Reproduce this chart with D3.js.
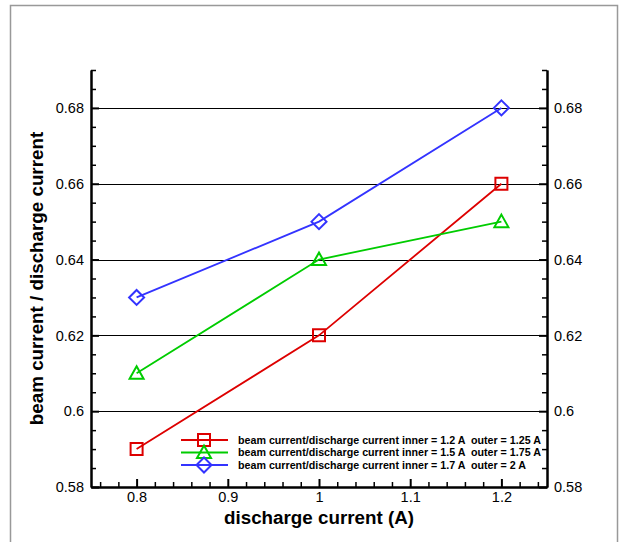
<!DOCTYPE html>
<html><head><meta charset="utf-8">
<script src="https://cdn.jsdelivr.net/npm/d3@7"></script>
<style>body{margin:0;background:#fff}svg{display:block}</style>
</head><body>
<svg id="c" width="621" height="542"></svg>
<script>
const xValues = [0.8, 1.0, 1.2];
const seriesNames = [
  "beam current/discharge current inner = 1.2 A  outer = 1.25 A",
  "beam current/discharge current inner = 1.5 A  outer = 1.75 A",
  "beam current/discharge current inner = 1.7 A  outer = 2 A"
];
const redValues = [0.59, 0.62, 0.66];
const greenValues = [0.61, 0.64, 0.65];
const blueValues = [0.63, 0.65, 0.68];
const seriesColors = ["#dd0000", "#00cc00", "#3333ff"];
const seriesMarkers = ["square", "triangle", "diamond"];
const xTicks = [0.8, 0.9, 1.0, 1.1, 1.2];
const yTicks = [0.58, 0.60, 0.62, 0.64, 0.66, 0.68];

const svg = d3.select("#c");
const font = "Liberation Sans, Arial, sans-serif";
svg.append("rect").attr("x",10.5).attr("y",5.5).attr("width",607).attr("height",545)
  .attr("fill","none").attr("stroke","#999").attr("stroke-width",1.5);

const L=91, R=547, T=70, B=487;
const x = d3.scaleLinear().domain([0.75,1.25]).range([L,R]);
const y = d3.scaleLinear().domain([0.58,0.69]).range([B,T]);

// grid
svg.append("g").selectAll("line").data(yTicks.slice(1)).join("line")
  .attr("x1",L).attr("x2",R).attr("y1",d=>Math.round(y(d))+0.5).attr("y2",d=>Math.round(y(d))+0.5)
  .attr("stroke","#000").attr("stroke-width",1);

function fmt(d){ return d3.format("")(+d.toFixed(2)); }

// axes
const minorX = d3.range(0.76,1.2401,0.02).map(d=>+d.toFixed(2)).filter(d=>!xTicks.some(t=>Math.abs(t-d)<1e-6));
const minorY = d3.range(0.585,0.6901,0.005).map(d=>+d.toFixed(3)).filter(d=>!yTicks.some(t=>Math.abs(t-d)<1e-6));

const axB = svg.append("g").attr("transform",`translate(0,${B})`)
  .call(d3.axisBottom(x).tickValues(xTicks).tickSizeInner(-8).tickSizeOuter(0).tickPadding(5).tickFormat(fmt));
const axBm = svg.append("g").attr("transform",`translate(0,${B})`)
  .call(d3.axisBottom(x).tickValues(minorX).tickSizeInner(-5).tickSizeOuter(0).tickFormat(""));
const axL = svg.append("g").attr("transform",`translate(${L},0)`)
  .call(d3.axisLeft(y).tickValues(yTicks).tickSizeInner(-8).tickSizeOuter(0).tickPadding(7).tickFormat(fmt));
const axLm = svg.append("g").attr("transform",`translate(${L},0)`)
  .call(d3.axisLeft(y).tickValues(minorY).tickSizeInner(-5).tickSizeOuter(0).tickFormat(""));
const axR = svg.append("g").attr("transform",`translate(${R},0)`)
  .call(d3.axisRight(y).tickValues(yTicks).tickSizeInner(-8).tickSizeOuter(0).tickPadding(7).tickFormat(fmt));
const axRm = svg.append("g").attr("transform",`translate(${R},0)`)
  .call(d3.axisRight(y).tickValues(minorY).tickSizeInner(-5).tickSizeOuter(0).tickFormat(""));
[axB,axBm,axL,axLm,axR,axRm].forEach(a=>{
  a.selectAll("path.domain").attr("stroke","#000").attr("stroke-width",2);
  a.selectAll(".tick line").attr("stroke","#000").attr("stroke-width",1.5);
  a.selectAll("text").attr("font-family",font).attr("font-size",14.5).attr("fill","#000");
});
axB.selectAll(".tick line").attr("stroke-width",2);
axL.selectAll(".tick line").attr("stroke-width",2);
axR.selectAll(".tick line").attr("stroke-width",2);

// titles
svg.append("text").attr("x",319).attr("y",524).attr("text-anchor","middle")
  .attr("font-family",font).attr("font-size",18.8).attr("font-weight","bold").text("discharge current (A)");
svg.append("text").attr("transform",`translate(43,${(T+B)/2}) rotate(-90)`).attr("text-anchor","middle")
  .attr("font-family",font).attr("font-size",18.8).attr("font-weight","bold").text("beam current / discharge current");

// markers
function markerPath(type){
  if(type==="square") return "M-6,-6H6V6H-6Z";
  if(type==="triangle") return "M0,-7L7,5.5H-7Z";
  return "M0,-7.5L7.5,0L0,7.5L-7.5,0Z";
}
const allValues = [redValues, greenValues, blueValues];
const line = d3.line().x((d,i)=>x(xValues[i])).y(d=>y(d));
allValues.forEach((vals,k)=>{
  svg.append("path").attr("d",line(vals)).attr("fill","none")
    .attr("stroke",seriesColors[k]).attr("stroke-width",1.8);
});
allValues.forEach((vals,k)=>{
  svg.append("g").selectAll("path").data(vals).join("path")
    .attr("transform",(d,i)=>`translate(${x(xValues[i])},${y(d)})`)
    .attr("d",markerPath(seriesMarkers[k])).attr("fill","none")
    .attr("stroke",seriesColors[k]).attr("stroke-width",2);
});

// legend
const leg = svg.append("g");
seriesNames.forEach((name,k)=>{
  const ly = 440 + k*12.5;
  leg.append("line").attr("x1",181).attr("x2",228).attr("y1",ly).attr("y2",ly)
    .attr("stroke",seriesColors[k]).attr("stroke-width",1.8);
  leg.append("path").attr("transform",`translate(204,${ly})`).attr("d",markerPath(seriesMarkers[k]))
    .attr("fill","none").attr("stroke",seriesColors[k]).attr("stroke-width",2);
  leg.append("text").attr("x",238).attr("y",ly+3.5).attr("font-family",font)
    .attr("font-size",10.7).attr("font-weight","bold").style("white-space","pre").text(name);
});
</script>
</body></html>
